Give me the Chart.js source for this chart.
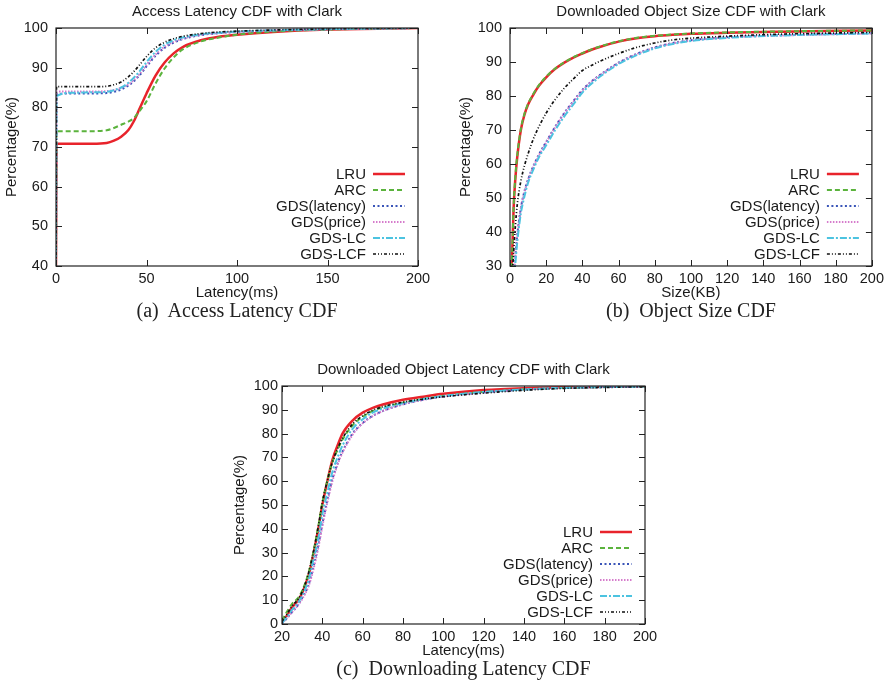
<!DOCTYPE html>
<html lang="en">
<head>
    <meta charset="UTF-8">
    <title>Clark CDF charts</title>
    <script src="https://cdn.jsdelivr.net/npm/chart.js"></script>
    <style>
        body { margin: 0; background: #fff; width: 888px; height: 686px; position: relative; overflow: hidden; }
        .panel { position: absolute; width: 444px; height: 302px; }
        .caption { position: absolute; font-family: "Liberation Serif", "DejaVu Serif", serif; font-size: 20px; color: #222; text-align: center; white-space: pre; }
    </style>
</head>
<body>
    <div class="panel" style="left:0;top:0"><canvas id="chartA"></canvas></div>
    <div class="panel" style="left:444px;top:0"><canvas id="chartB"></canvas></div>
    <div class="panel" style="left:230px;top:358px"><canvas id="chartC"></canvas></div>
    <div class="caption" style="left:56px;width:362px;top:299px">(a)  Access Latency CDF</div>
    <div class="caption" style="left:510px;width:362px;top:299px">(b)  Object Size CDF</div>
    <div class="caption" style="left:282px;width:363px;top:657px">(c)  Downloading Latency CDF</div>

    <script>
        // series names shared by all three charts
        const seriesNames = ['LRU', 'ARC', 'GDS(latency)', 'GDS(price)', 'GDS-LC', 'GDS-LCF'];

        // (a) access latency CDF
        const accessLatency = [0, 0.3, 10, 20, 28, 32, 36, 40, 43, 46, 50, 55, 60, 65, 70, 80, 90, 100, 120, 150, 200];
        const accessLRU      = [40, 70.8, 70.8, 70.8, 71, 71.6, 72.6, 74.3, 76.5, 79.5, 83.5, 88, 91.3, 93.6, 95.2, 96.9, 97.8, 98.3, 99, 99.6, 100];
        const accessARC      = [40, 74, 74, 74, 74.2, 74.8, 75.6, 76.4, 77.3, 79, 81.5, 86, 89.8, 92.6, 94.6, 96.6, 97.6, 98.3, 99.1, 99.6, 100];
        const accessGDSLat   = [40, 83.3, 83.5, 83.5, 83.6, 83.9, 84.5, 85.5, 86.6, 88, 90.3, 93, 95, 96.3, 97.2, 98.2, 98.7, 99, 99.4, 99.7, 100];
        const accessGDSPrice = [40, 84, 84, 84, 84.1, 84.4, 84.9, 85.8, 86.9, 88.3, 90.7, 93.3, 95.3, 96.5, 97.3, 98.3, 98.7, 99, 99.4, 99.7, 100];
        const accessGDSLC    = [40, 82.8, 83.7, 83.8, 83.9, 84.3, 85, 86.2, 87.5, 89, 91.4, 94, 95.8, 96.9, 97.6, 98.4, 98.8, 99.1, 99.4, 99.7, 100];
        const accessGDSLCF   = [40, 85.2, 85.2, 85.2, 85.3, 85.7, 86.4, 87.7, 89, 90.6, 92.8, 95, 96.4, 97.3, 97.9, 98.6, 99, 99.2, 99.5, 99.8, 100];

        // (b) downloaded object size CDF
        const objectSize   = [0, 1, 2, 3, 4, 6, 8, 10, 13, 16, 20, 25, 30, 35, 40, 45, 50, 60, 70, 80, 90, 100, 120, 150, 200];
        const sizeLRU      = [20, 30, 47, 56, 62, 70, 74.5, 77.5, 80.5, 83, 85.5, 88, 89.8, 91.3, 92.5, 93.6, 94.5, 96, 97, 97.6, 98, 98.3, 98.6, 98.9, 99.3];
        const sizeARC      = [20, 30.5, 47.5, 56.5, 62.5, 70.3, 74.8, 77.7, 80.7, 83.2, 85.7, 88.1, 89.9, 91.4, 92.6, 93.7, 94.6, 96.1, 97.1, 97.7, 98.1, 98.4, 98.7, 99, 99.3];
        const sizeGDSLat   = [10, 18, 26, 33, 39, 47, 52, 55.5, 59.5, 62.8, 66.5, 71, 75, 78.5, 81.8, 84.3, 86.3, 89.8, 92.4, 94.3, 95.6, 96.4, 97.3, 97.9, 98.5];
        const sizeGDSPrice = [10, 18, 26, 33, 39, 47, 51.8, 55.3, 59.3, 62.6, 66.3, 70.8, 74.8, 78.3, 81.6, 84.2, 86.2, 89.7, 92.3, 94.2, 95.5, 96.3, 97.2, 97.8, 98.4];
        const sizeGDSLC    = [8, 16, 24, 31, 37, 45.5, 50.5, 54.5, 58.5, 62, 65.5, 70, 74, 77.5, 81, 83.6, 85.8, 89.4, 92, 94, 95.3, 96.2, 97.1, 97.8, 98.4];
        const sizeGDSLCF   = [15, 25, 34, 42, 48, 55, 59.5, 63, 67.5, 71, 75, 79, 82.3, 85, 87.5, 89, 90.3, 92.5, 94.3, 95.6, 96.5, 97, 97.6, 98.2, 98.7];

        // (c) downloaded object latency CDF
        const downloadLatency = [20, 22, 25, 28, 30, 33, 35, 38, 40, 43, 45, 48, 50, 55, 60, 65, 70, 80, 90, 100, 120, 140, 160, 200];
        const dlLRU      = [1, 3, 7, 10, 13, 20, 27, 40, 50, 62, 69, 76, 80, 85.5, 88.8, 90.8, 92.2, 94.2, 95.5, 96.7, 98.3, 99.1, 99.5, 99.9];
        const dlARC      = [1.5, 4.5, 8.5, 11, 14, 21, 28, 41, 51, 62, 68, 74, 77.5, 83.5, 87, 89.5, 91, 93, 94.5, 95.8, 97.5, 98.6, 99.2, 99.8];
        const dlGDSLat   = [0.3, 2, 5, 8, 11, 16, 22, 33, 42, 54, 61, 68.5, 72.5, 80, 84.5, 87.5, 89.5, 92.3, 94.2, 95.6, 97.3, 98.5, 99.2, 99.8];
        const dlGDSPrice = [0.3, 2, 5, 8, 10.5, 15.5, 21, 32, 41, 53, 60, 68, 72, 79.5, 84.3, 87.3, 89.5, 92.3, 94.2, 95.6, 97.3, 98.5, 99.2, 99.8];
        const dlGDSLC    = [0.5, 2.5, 6, 9, 12, 18, 25, 36, 46, 57, 64, 71, 75, 82, 86, 88.8, 90.5, 92.8, 94.5, 95.8, 97.5, 98.5, 99.2, 99.8];
        const dlGDSLCF   = [1, 3.5, 7.5, 10.5, 13.5, 21, 28, 41, 51, 62, 68, 74.5, 78, 84, 87.5, 89.8, 91.3, 93.2, 94.5, 95.5, 97, 98.2, 99, 99.7];

        const lineStyles = [
            { color: '#e8232b', dash: [], width: 2.5 },
            { color: '#5bb33d', dash: [5, 3], width: 2 },
            { color: '#3a55b8', dash: [2, 2.5], width: 2 },
            { color: '#d67ccc', dash: [1.5, 1.5], width: 2 },
            { color: '#4cc3e0', dash: [7, 2, 2, 2], width: 2 },
            { color: '#111111', dash: [3, 2, 1, 2, 1, 2], width: 1.7 },
        ];

        const font = 'Liberation Sans, Arial, sans-serif';

        // gnuplot-like frame: box plus inward ticks on all four sides, legend inside lower right
        const framePlugin = {
            id: 'frame',
            afterDatasetsDraw(chart) {
                const { ctx, chartArea: a, scales } = chart;
                ctx.save();
                ctx.strokeStyle = '#222';
                ctx.lineWidth = 1;
                ctx.setLineDash([]);
                ctx.beginPath();
                scales.x.ticks.forEach(t => {
                    const px = Math.round(scales.x.getPixelForValue(t.value)) + 0.5;
                    ctx.moveTo(px, a.bottom); ctx.lineTo(px, a.bottom - 6);
                    ctx.moveTo(px, a.top); ctx.lineTo(px, a.top + 6);
                });
                scales.y.ticks.forEach(t => {
                    const py = Math.round(scales.y.getPixelForValue(t.value)) + 0.5;
                    ctx.moveTo(a.left, py); ctx.lineTo(a.left + 6, py);
                    ctx.moveTo(a.right, py); ctx.lineTo(a.right - 6, py);
                });
                ctx.stroke();
                ctx.lineWidth = 1.2;
                ctx.strokeRect(a.left, a.top, a.right - a.left, a.bottom - a.top);

                // legend
                const n = chart.data.datasets.length;
                ctx.font = '15px ' + font;
                ctx.textAlign = 'right';
                ctx.textBaseline = 'middle';
                chart.data.datasets.forEach((ds, i) => {
                    const y = a.bottom - 12 - (n - 1 - i) * 16;
                    ctx.fillStyle = '#1a1a1a';
                    ctx.fillText(ds.label, a.right - 52, y + 1);
                    ctx.strokeStyle = ds.borderColor;
                    ctx.lineWidth = ds.borderWidth;
                    ctx.setLineDash(ds.borderDash);
                    ctx.beginPath();
                    ctx.moveTo(a.right - 45, y); ctx.lineTo(a.right - 13, y);
                    ctx.stroke();
                });
                ctx.restore();
            }
        };

        function makeChart(id, opts) {
            const n = opts.series.length;
            const datasets = opts.series.map((ys, i) => ({
                label: seriesNames[i],
                data: opts.xs.map((x, j) => ({ x: x, y: ys[j] })),
                borderColor: lineStyles[i].color,
                borderDash: lineStyles[i].dash,
                borderWidth: lineStyles[i].width,
                pointRadius: 0,
                cubicInterpolationMode: 'monotone',
                fill: false,
                // later series are drawn over earlier ones, as in the reference
                order: n - i,
            }));

            return new Chart(document.getElementById(id), {
                type: 'line',
                data: { datasets: datasets },
                plugins: [framePlugin],
                options: {
                    responsive: true,
                    maintainAspectRatio: false,
                    animation: false,
                    layout: { padding: { left: 0, right: opts.padRight, top: 0, bottom: 0 } },
                    plugins: {
                        legend: { display: false },
                        tooltip: { enabled: false },
                        title: {
                            display: true,
                            text: opts.title,
                            fullSize: false,
                            color: '#1a1a1a',
                            font: { family: font, size: 15, weight: 'normal' },
                            padding: { top: 3, bottom: 7 },
                        },
                    },
                    scales: {
                        x: {
                            type: 'linear',
                            min: opts.xMin, max: opts.xMax,
                            grid: { display: false, drawTicks: false },
                            border: { display: false },
                            ticks: { stepSize: opts.xStep, color: '#1a1a1a', padding: 4, maxRotation: 0, font: { family: font, size: 14.5 } },
                            title: { display: true, text: opts.xTitle, color: '#1a1a1a', padding: { top: 0, bottom: 0 }, font: { family: font, size: 15 } },
                            afterFit: s => { s.height = 36; },
                        },
                        y: {
                            min: opts.yMin, max: 100,
                            grid: { display: false, drawTicks: false },
                            border: { display: false },
                            ticks: { stepSize: 10, color: '#1a1a1a', padding: opts.yTickPad, font: { family: font, size: 14.5 } },
                            title: { display: true, text: 'Percentage(%)', color: '#1a1a1a', padding: { top: opts.yTitlePad, bottom: 0 }, font: { family: font, size: 15 } },
                            afterFit: s => { s.width = opts.yWidth; },
                        },
                    },
                },
            });
        }

        makeChart('chartA', {
            title: 'Access Latency CDF with Clark', xTitle: 'Latency(ms)',
            xs: accessLatency,
            series: [accessLRU, accessARC, accessGDSLat, accessGDSPrice, accessGDSLC, accessGDSLCF],
            xMin: 0, xMax: 200, xStep: 50, yMin: 40,
            yWidth: 56, yTickPad: 8, yTitlePad: 3, padRight: 26,
        });
        makeChart('chartB', {
            title: 'Downloaded Object Size CDF with Clark', xTitle: 'Size(KB)',
            xs: objectSize,
            series: [sizeLRU, sizeARC, sizeGDSLat, sizeGDSPrice, sizeGDSLC, sizeGDSLCF],
            xMin: 0, xMax: 200, xStep: 20, yMin: 30,
            yWidth: 66, yTickPad: 8, yTitlePad: 12.5, padRight: 16,
        });
        makeChart('chartC', {
            title: 'Downloaded Object Latency CDF with Clark', xTitle: 'Latency(ms)',
            xs: downloadLatency,
            series: [dlLRU, dlARC, dlGDSLat, dlGDSPrice, dlGDSLC, dlGDSLCF],
            xMin: 20, xMax: 200, xStep: 20, yMin: 0,
            yWidth: 52, yTickPad: 4, yTitlePad: 0.5, padRight: 29,
        });
    </script>
</body>
</html>
